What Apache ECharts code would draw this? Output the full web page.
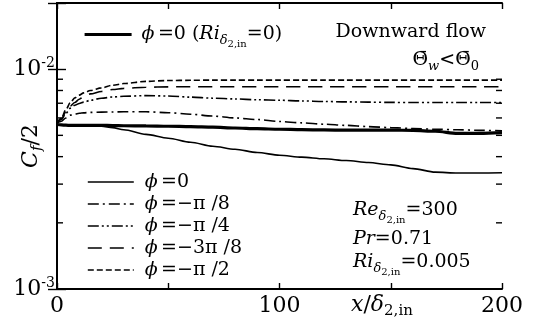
<!DOCTYPE html>
<html>
<head>
<meta charset="utf-8">
<script src="https://cdn.jsdelivr.net/npm/echarts@6/dist/echarts.min.js"></script>
<style>
html,body{margin:0;padding:0;background:#fff;}
#chart{width:536px;height:334px;}
</style>
</head>
<body>
<div id="chart"></div>
<script>
// streamwise positions x/delta_{2,in}
const xPos = [0, 2, 4, 6, 8, 10, 12, 15, 20, 25, 30, 40, 50, 60, 70, 80, 90, 100, 110, 120, 130, 140, 150, 160, 170, 180, 190, 200];

// skin friction C_f/2 (x 1e-3) for each wall-heating angle
const cfRi0     = [5.60, 5.58, 5.56, 5.55, 5.55, 5.55, 5.55, 5.55, 5.55, 5.54, 5.53, 5.52, 5.50, 5.48, 5.45, 5.40, 5.36, 5.33, 5.31, 5.29, 5.28, 5.28, 5.28, 5.27, 5.22, 5.10, 5.10, 5.14];
const cfPhi0    = [5.60, 5.58, 5.56, 5.55, 5.55, 5.55, 5.55, 5.54, 5.50, 5.42, 5.30, 5.05, 4.85, 4.65, 4.46, 4.32, 4.18, 4.06, 3.98, 3.91, 3.84, 3.76, 3.67, 3.53, 3.40, 3.37, 3.37, 3.38];
const cfPiOver8 = [5.70, 5.80, 6.00, 6.18, 6.25, 6.30, 6.33, 6.36, 6.38, 6.39, 6.40, 6.40, 6.34, 6.24, 6.12, 6.00, 5.90, 5.78, 5.70, 5.62, 5.55, 5.48, 5.42, 5.37, 5.33, 5.30, 5.27, 5.25];
const cfPiOver4 = [5.70, 5.90, 6.30, 6.65, 6.85, 6.98, 7.08, 7.22, 7.38, 7.47, 7.53, 7.58, 7.55, 7.46, 7.38, 7.32, 7.26, 7.22, 7.17, 7.13, 7.10, 7.08, 7.06, 7.05, 7.05, 7.05, 7.05, 7.05];
const cf3PiOver8 = [5.70, 5.95, 6.40, 6.80, 7.05, 7.30, 7.50, 7.72, 7.92, 8.08, 8.18, 8.28, 8.31, 8.32, 8.32, 8.32, 8.32, 8.32, 8.32, 8.32, 8.32, 8.32, 8.32, 8.32, 8.32, 8.32, 8.32, 8.32];
const cfPiOver2 = [5.70, 6.00, 6.55, 7.05, 7.40, 7.62, 7.80, 8.00, 8.22, 8.45, 8.60, 8.80, 8.88, 8.90, 8.92, 8.92, 8.92, 8.92, 8.92, 8.92, 8.92, 8.92, 8.92, 8.92, 8.92, 8.92, 8.92, 8.92];

// axis ticks
const xLabelled = [0, 100, 200];
const yMinorTicks = [0.002, 0.003, 0.004, 0.005, 0.006, 0.007, 0.008, 0.009];
const xMin = 0, xMax = 200, yMin = 0.001, yMax = 0.02;

const SERIF = '"DejaVu Serif", "Liberation Serif", serif';
const scale = 1e-3;
const pairs = arr => xPos.map((x, i) => [x, arr[i] * scale]);

const richMath = size => ({
  i:  {fontFamily: SERIF, fontSize: size, fontStyle: 'italic', color: '#000'},
  n:  {fontFamily: SERIF, fontSize: size, color: '#000'},
  s1: {fontFamily: SERIF, fontSize: Math.round(size * 0.68), fontStyle: 'italic', color: '#000', padding: [12, 0, 0, 0]},
  s2: {fontFamily: SERIF, fontSize: Math.round(size * 0.55), color: '#000', padding: [20, 0, 0, 0]},
  s0: {fontFamily: SERIF, fontSize: Math.round(size * 0.68), color: '#000', padding: [12, 0, 0, 0]},
  sup:{fontFamily: SERIF, fontSize: Math.round(size * 0.62), color: '#000', padding: [0, 0, 11, 0]}
});

const THICK = 3.2, THIN = 1.6;

const seriesDefs = [
  {name: 'Ri0',  data: cfRi0,      width: THICK, type: 'solid'},
  {name: 'p0',   data: cfPhi0,     width: THIN, type: 'solid'},
  {name: 'p8',   data: cfPiOver8,  width: THIN, type: [11, 4, 2, 4]},
  {name: 'p4',   data: cfPiOver4,  width: THIN, type: [11, 3, 2, 3, 2, 3]},
  {name: 'p38',  data: cf3PiOver8, width: THIN, type: [14, 8]},
  {name: 'p2',   data: cfPiOver2,  width: THIN, type: [6, 3]}
];

const legendText = {
  Ri0: '{i|ϕ} {n|=0 (}{i|Ri}{s1|δ}{s2|2,in}{n|=0)}',
  p0:  '{i|ϕ} {n|=0}',
  p8:  '{i|ϕ} {n|=−π /8}',
  p4:  '{i|ϕ} {n|=−π /4}',
  p38: '{i|ϕ} {n|=−3π /8}',
  p2:  '{i|ϕ} {n|=−π /2}'
};

const chart = echarts.init(document.getElementById('chart'), null, {renderer: 'canvas'});

const series = seriesDefs.map(d => ({
  name: d.name,
  type: 'line',
  data: pairs(d.data),
  showSymbol: false,
  symbol: 'none',
  smooth: 0.3,
  smoothMonotone: 'x',
  lineStyle: {color: '#000', width: d.width, type: d.type},
  itemStyle: {color: '#000'},
  silent: true,
  z: 3
}));

// logarithmic minor ticks drawn on both vertical axes
series.push({
  type: 'custom',
  silent: true,
  clip: false,
  data: yMinorTicks.map(v => [xMin, v]),
  encode: {x: 0, y: 1},
  renderItem: (params, api) => {
    const v = api.value(1);
    const l = api.coord([xMin, v]);
    const r = api.coord([xMax, v]);
    const st = {stroke: '#000', lineWidth: 1.4};
    return {type: 'group', children: [
      {type: 'line', shape: {x1: l[0], y1: l[1], x2: l[0] + 6, y2: l[1]}, style: st},
      {type: 'line', shape: {x1: r[0], y1: r[1], x2: r[0] - 6, y2: r[1]}, style: st}
    ]};
  },
  z: 4
});

const axisLineStyle = {show: true, lineStyle: {color: '#000', width: 2}};
const isDecade = v => Math.abs(Math.log10(v) - Math.round(Math.log10(v))) < 1e-6;

const option = {
  animation: false,
  backgroundColor: '#fff',
  grid: {left: 57, right: 34, top: 3, bottom: 45, containLabel: false, outerBoundsMode: 'none'},
  xAxis: [
    {
      type: 'value', min: xMin, max: xMax, interval: 50, position: 'bottom',
      axisLine: axisLineStyle,
      axisTick: {show: true, inside: true, length: 6, lineStyle: {color: '#000', width: 1.4}},
      axisLabel: {
        margin: 6, color: '#000', fontFamily: SERIF, fontSize: 22,
        formatter: v => xLabelled.indexOf(v) >= 0 ? String(v) : ''
      },
      splitLine: {show: false}
    },
    {
      type: 'value', min: xMin, max: xMax, interval: 50, position: 'top',
      axisLine: axisLineStyle,
      axisTick: {show: true, inside: true, length: 6, lineStyle: {color: '#000', width: 1.4}},
      axisLabel: {show: false},
      splitLine: {show: false}
    }
  ],
  yAxis: [
    {
      type: 'log', logBase: 10, min: yMin, max: yMax, position: 'left',
      axisLine: axisLineStyle,
      axisTick: {show: true, inside: true, length: 9, lineStyle: {color: '#000', width: 1.4}},
      axisLabel: {
        margin: 2, color: '#000',
        formatter: v => isDecade(v) ? '{n|10}{sup|' + Math.round(Math.log10(v)) + '}' : '',
        rich: richMath(22)
      },
      splitLine: {show: false}
    },
    {
      type: 'log', logBase: 10, min: yMin, max: yMax, position: 'right',
      axisLine: axisLineStyle,
      axisTick: {show: true, inside: true, length: 9, lineStyle: {color: '#000', width: 1.4}},
      axisLabel: {show: false},
      splitLine: {show: false}
    }
  ],
  legend: [
    {
      data: ['Ri0'],
      left: 78, top: 20,
      itemWidth: 47, itemHeight: 12,
      selectedMode: false,
      itemStyle: {opacity: 0},
      lineStyle: {width: THICK},
      formatter: n => legendText[n],
      textStyle: {rich: richMath(19), padding: [0, 0, 0, 5]}
    },
    {
      data: ['p0', 'p8', 'p4', 'p38', 'p2'],
      orient: 'vertical',
      left: 82, top: 166,
      itemWidth: 46, itemHeight: 12, itemGap: 0,
      selectedMode: false,
      itemStyle: {opacity: 0},
      lineStyle: {width: THIN},
      formatter: n => legendText[n],
      textStyle: {rich: richMath(19), lineHeight: 22, padding: [0, 0, 0, 6]}
    }
  ],
  graphic: [
    {
      // vertical axis title, reading bottom to top
      type: 'text', x: 31, y: 146, rotation: Math.PI / 2,
      style: {text: '{i|C}{s1|f}{n|/2}', rich: richMath(22), align: 'center', verticalAlign: 'middle'}
    },
    {
      type: 'text', right: 50, top: 23,
      style: {text: 'Downward flow', font: '19px ' + SERIF, fill: '#000'}
    },
    {
      type: 'text', right: 57, top: 51,
      style: {text: '{n|Θ\u0304}{s1|w}{n|<Θ\u0304}{s0|0}', rich: richMath(19)}
    },
    {
      type: 'text', left: 353, top: 201,
      style: {text: '{i|Re}{s1|δ}{s2|2,in}{n|=300}', rich: richMath(19)}
    },
    {
      type: 'text', left: 353, top: 230,
      style: {text: '{i|Pr}{n|=0.71}', rich: richMath(19)}
    },
    {
      type: 'text', left: 353, top: 253,
      style: {text: '{i|Ri}{s1|δ}{s2|2,in}{n|=0.005}', rich: richMath(19)}
    },
    {
      type: 'text', left: 351, top: 294,
      style: {text: '{i|x}{n|/}{i|δ}{s0|2,in}', rich: richMath(22)}
    }
  ],
  series: series
};

chart.setOption(option);
</script>
</body>
</html>
